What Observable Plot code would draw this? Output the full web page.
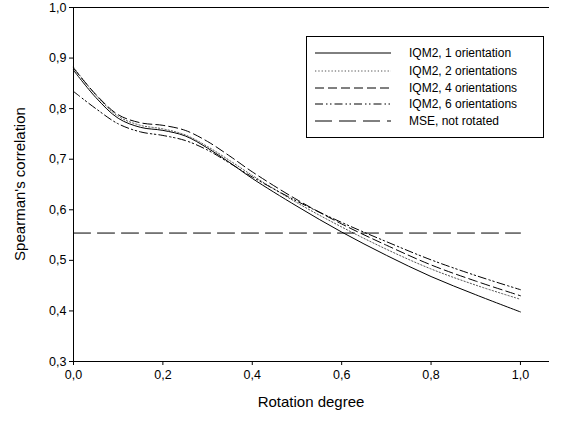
<!DOCTYPE html>
<html><head><meta charset="utf-8">
<script src="https://cdn.jsdelivr.net/npm/d3@7"></script>
<script src="https://cdn.jsdelivr.net/npm/@observablehq/plot@0.6"></script>
<style>
body{margin:0;background:#fff;font-family:"Liberation Sans",Arial,sans-serif;}
#wrap{position:relative;width:568px;height:425px;}
</style></head>
<body><div id="wrap"></div>
<script>
const xs = [0, 0.05, 0.1, 0.15, 0.2, 0.25, 0.3, 0.35, 0.4, 0.5, 0.6, 0.7, 0.8, 0.9, 1.0];
const iqm1 = [0.876, 0.822, 0.781, 0.763, 0.757, 0.746, 0.722, 0.693, 0.662, 0.607, 0.556, 0.510, 0.468, 0.432, 0.398];
const iqm2 = [0.882, 0.827, 0.785, 0.767, 0.760, 0.748, 0.725, 0.697, 0.668, 0.614, 0.566, 0.522, 0.483, 0.451, 0.423];
const iqm4 = [0.880, 0.828, 0.788, 0.772, 0.767, 0.757, 0.735, 0.706, 0.675, 0.620, 0.572, 0.530, 0.491, 0.459, 0.430];
const iqm6 = [0.834, 0.800, 0.770, 0.754, 0.747, 0.737, 0.718, 0.692, 0.665, 0.617, 0.575, 0.537, 0.501, 0.470, 0.442];
const mseX = [0, 1.0];
const mseY = [0.554, 0.554];
const seriesNames = ["IQM2, 1 orientation", "IQM2, 2 orientations", "IQM2, 4 orientations", "IQM2, 6 orientations", "MSE, not rotated"];
const yTicks = [0.3, 0.4, 0.5, 0.6, 0.7, 0.8, 0.9, 1.0];
const xTicks = [0, 0.2, 0.4, 0.6, 0.8, 1.0];

const styles = [
  {stroke:"#000", dash:null, w:1},
  {stroke:"#555", dash:"1.3,2", w:1},
  {stroke:"#000", dash:"9,4", w:1},
  {stroke:"#000", dash:"8,3,1.5,2.5,1.5,3", w:1},
  {stroke:"#000", dash:"17,7", w:1}
];
const seriesVals = [iqm1, iqm2, iqm4, iqm6];
const rows = (vals) => xs.map((x,i)=>({x, y: vals[i]}));
const fmt = d => d3.format(".1f")(d).replace(".", ",");

const marks = [];
seriesVals.forEach((vals, k) => {
  marks.push(Plot.line(rows(vals), {x:"x", y:"y", curve:"catmull-rom", stroke:styles[k].stroke, strokeWidth:styles[k].w, strokeDasharray:styles[k].dash}));
});
marks.push(Plot.line(mseX.map((x,i)=>({x, y:mseY[i]})), {x:"x", y:"y", stroke:"#000", strokeWidth:1, strokeDasharray:styles[4].dash}));
marks.push(Plot.ruleY([1.0], {stroke:"#000", strokeWidth:1.2}));
marks.push(Plot.ruleY([0.3], {stroke:"#000", strokeWidth:1}));
marks.push(Plot.ruleX([0], {stroke:"#000", strokeWidth:1}));
marks.push(Plot.axisY(yTicks, {tickFormat: fmt, tickSize:4, tickPadding:3, fontSize:12.5, label:null}));
marks.push(Plot.axisX(xTicks, {tickFormat: fmt, tickSize:4, tickPadding:5, fontSize:12.5, label:null}));

const plot = Plot.plot({
  width: 568, height: 425,
  marginTop: 7, marginBottom: 64, marginLeft: 73, marginRight: 19,
  x: {domain:[0, 1.065]},
  y: {domain:[0.3, 1.0]},
  style: {fontFamily:'"Liberation Sans", Arial, sans-serif', color:"#000", background:"#fff"},
  marks
});
const wrap = document.getElementById("wrap");
wrap.appendChild(plot);

// axis titles
const svg = d3.select(plot);
svg.append("text").attr("x", 311).attr("y", 407).attr("text-anchor","middle")
  .attr("font-size", 15).attr("font-family",'"Liberation Sans", Arial, sans-serif').text("Rotation degree");
svg.append("text").attr("transform","translate(25,184) rotate(-90)").attr("text-anchor","middle")
  .attr("font-size", 15).attr("font-family",'"Liberation Sans", Arial, sans-serif').text("Spearman's correlation");

// legend
const lg = svg.append("g").attr("text-anchor","start");
lg.append("rect").attr("x",306.5).attr("y",36.5).attr("width",237).attr("height",101)
  .attr("fill","#fff").attr("stroke","#000").attr("stroke-width",1);
const rowY = [53, 71, 88, 104, 121];
seriesNames.forEach((name,k)=>{
  const s = styles[k];
  lg.append("line").attr("x1",315).attr("x2",391).attr("y1",rowY[k]).attr("y2",rowY[k])
    .attr("stroke",s.stroke).attr("stroke-width",s.w).attr("stroke-dasharray",s.dash);
  lg.append("text").attr("x",409).attr("y",rowY[k]+4).attr("font-size",12).attr("text-anchor","start")
    .attr("font-family",'"Liberation Sans", Arial, sans-serif').text(name);
});
</script></body></html>
